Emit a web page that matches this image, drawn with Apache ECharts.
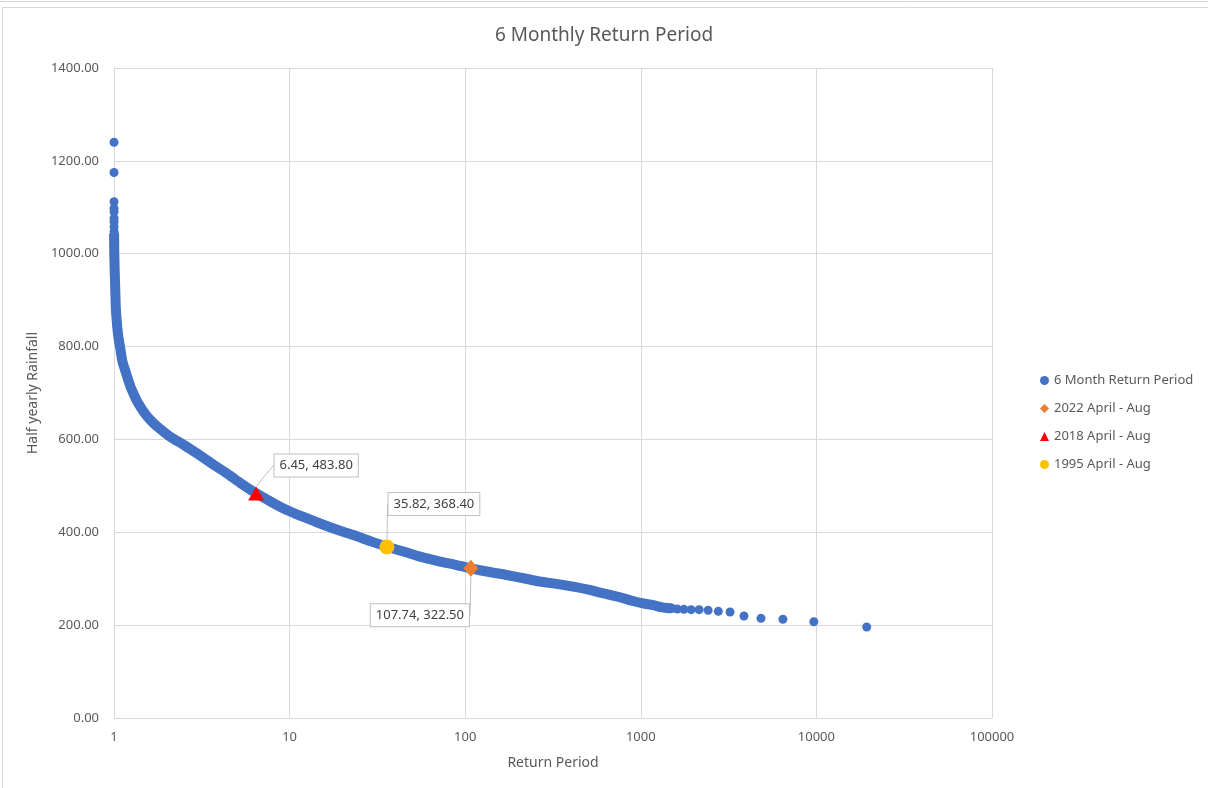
<!DOCTYPE html>
<html><head><meta charset="utf-8">
<script src="https://cdn.jsdelivr.net/npm/echarts@6/dist/echarts.min.js"></script>
<style>html,body{margin:0;padding:0;background:#fff}#c{width:1208px;height:788px}</style>
</head><body><div id="c"></div>
<script>
// Return period (x) and half-yearly rainfall (y)
const returnPeriod = [
  1.0000, 1.0001, 1.0005, 1.0006, 1.0007, 1.0008, 1.0009, 1.0010, 1.0012, 1.0015,
  1.002, 1.003, 1.004, 1.006, 1.008, 1.010, 1.013, 1.017, 1.021, 1.027,
  1.036, 1.045, 1.058, 1.072, 1.082, 1.10, 1.12, 1.155, 1.20, 1.24,
  1.29, 1.35, 1.42, 1.50, 1.60, 1.72, 1.87, 2.05, 2.23, 2.43,
  2.75, 3.16, 3.7, 4.39, 5.3, 6.45, 7.9, 9.63, 12.0, 14.9,
  18.5, 23.1, 28.8, 35.8, 45, 56, 71.8, 88, 107.7, 135,
  172, 215, 265, 330, 413, 510, 586, 640, 761, 903,
  1029, 1174, 1300, 1410, 1488, 1612, 1758, 1934, 2149, 2418,
  2763, 3223, 3868, 4835, 6447, 9670, 19340
];
const rainfall = [
  1240, 1175, 1112, 1098, 1090, 1076, 1069, 1058, 1048, 1040,
  1030, 1015, 1000, 985, 970, 957, 943, 920, 898, 875,
  857, 840, 822, 808, 800, 782, 766, 750, 730, 714,
  699, 683, 669, 656, 643, 631, 620, 608, 599, 591,
  578, 563, 545, 527, 505, 484, 465, 448, 433, 419,
  406, 394, 381, 369, 358, 347, 337, 330, 322.5, 315,
  308, 301, 294, 289, 283, 276, 270, 267, 260, 252,
  247, 243, 239, 237, 236.5, 234.8, 234.1, 233.3, 233.3, 232,
  229.8, 228.3, 219.7, 214.7, 212.6, 207.4, 196
];
const seriesNames = ['6 Month Return Period', '2022 April - Aug', '2018 April - Aug', '1995 April - Aug'];
const period2022 = [107.74], rain2022 = [322.50];
const period2018 = [6.45],   rain2018 = [483.80];
const period1995 = [35.82],  rain1995 = [368.40];
const xTicks = [1, 10, 100, 1000, 10000, 100000];

const allPts = returnPeriod.map((t, i) => [t, rainfall[i]]);
const densePts = allPts.filter(p => p[1] <= 1040 && p[0] <= 1500);
const pts = (a, b) => a.map((t, i) => [t, b[i]]);

const TXT = '#595959';
const FONT = 'Noto Sans';
const labelStyle = {
  show: true, position: 'inside', color: '#404040', fontSize: 13, fontFamily: FONT,
  backgroundColor: '#fff', borderColor: '#BFBFBF', borderWidth: 1, padding: [5, 5, 4, 5],
  formatter: p => p.value[0].toFixed(2) + ', ' + p.value[1].toFixed(2)
};
const guide = { show: true, lineStyle: { color: '#BFBFBF', width: 1 } };

const chart = echarts.init(document.getElementById('c'), null, { renderer: 'canvas' });
chart.setOption({
  backgroundColor: '#fff',
  animation: false,
  textStyle: { fontFamily: FONT },
  title: {
    text: '6 Monthly Return Period', left: 'center', top: 21,
    textStyle: { color: TXT, fontSize: 19, fontWeight: 'normal', fontFamily: FONT }
  },
  graphic: [
    { type: 'line', shape: { x1: 0, y1: 1.5, x2: 1208, y2: 1.5 }, style: { stroke: '#D9D9D9', lineWidth: 1 } },
    { type: 'rect', shape: { x: 2.5, y: 7.5, width: 1215, height: 795 }, style: { stroke: '#D9D9D9', fill: 'none', lineWidth: 1 } }
  ],
  grid: { left: 114, right: 216, top: 68, bottom: 70 },
  legend: {
    orient: 'vertical', left: 1035, top: 369, itemGap: 15, itemWidth: 9, itemHeight: 9,
    textStyle: { color: TXT, fontSize: 13, fontFamily: FONT },
    data: [
      { name: seriesNames[0], icon: 'circle' },
      { name: seriesNames[1], icon: 'diamond' },
      { name: seriesNames[2], icon: 'triangle' },
      { name: seriesNames[3], icon: 'circle' }
    ]
  },
  xAxis: {
    type: 'log', logBase: 10, min: xTicks[0], max: xTicks[xTicks.length - 1],
    name: 'Return Period', nameLocation: 'middle', nameGap: 38,
    nameTextStyle: { color: TXT, fontSize: 14, fontFamily: FONT },
    axisLine: { lineStyle: { color: '#D9D9D9' } },
    axisTick: { show: false },
    splitLine: { show: true, lineStyle: { color: '#D9D9D9' } },
    axisLabel: { color: TXT, fontSize: 13, margin: 13, formatter: v => String(Math.round(v)) }
  },
  yAxis: {
    type: 'value', min: 0, max: 1400, interval: 200,
    name: 'Half yearly Rainfall', nameLocation: 'middle', nameGap: 70,
    nameTextStyle: { color: TXT, fontSize: 14, fontFamily: FONT },
    axisLine: { show: true, lineStyle: { color: '#D9D9D9' } },
    axisTick: { show: false },
    splitLine: { show: true, lineStyle: { color: '#D9D9D9' } },
    axisLabel: { color: TXT, fontSize: 13, margin: 15, formatter: v => v.toFixed(2) }
  },
  series: [
    {
      name: 'band', type: 'line', data: densePts, symbol: 'none', smooth: 0.3, clip: false, silent: true,
      lineStyle: { color: '#4472C4', width: 10, cap: 'round', join: 'round' }, z: 1
    },
    {
      name: seriesNames[0], type: 'scatter', data: allPts, symbol: 'circle', symbolSize: 9, clip: false,
      itemStyle: { color: '#4472C4', opacity: 1 }, z: 2
    },
    {
      name: seriesNames[3], type: 'scatter', data: pts(period1995, rain1995), symbol: 'circle', symbolSize: 15,
      itemStyle: { color: '#FFC000', opacity: 1 }, z: 3,
      label: labelStyle, labelLine: guide, labelLayout: { dx: 47, dy: -43 }
    },
    {
      name: seriesNames[1], type: 'scatter', data: pts(period2022, rain2022), symbol: 'diamond', symbolSize: [15, 17],
      itemStyle: { color: '#ED7D31', opacity: 1 }, z: 3,
      label: labelStyle, labelLine: guide, labelLayout: { dx: -51, dy: 47 }
    },
    {
      name: seriesNames[2], type: 'scatter', data: pts(period2018, rain2018), symbol: 'triangle', symbolSize: [16, 14],
      itemStyle: { color: '#FF0000', opacity: 1 }, z: 3,
      label: labelStyle, labelLine: guide, labelLayout: { dx: 60, dy: -28 }
    }
  ]
});
</script></body></html>
